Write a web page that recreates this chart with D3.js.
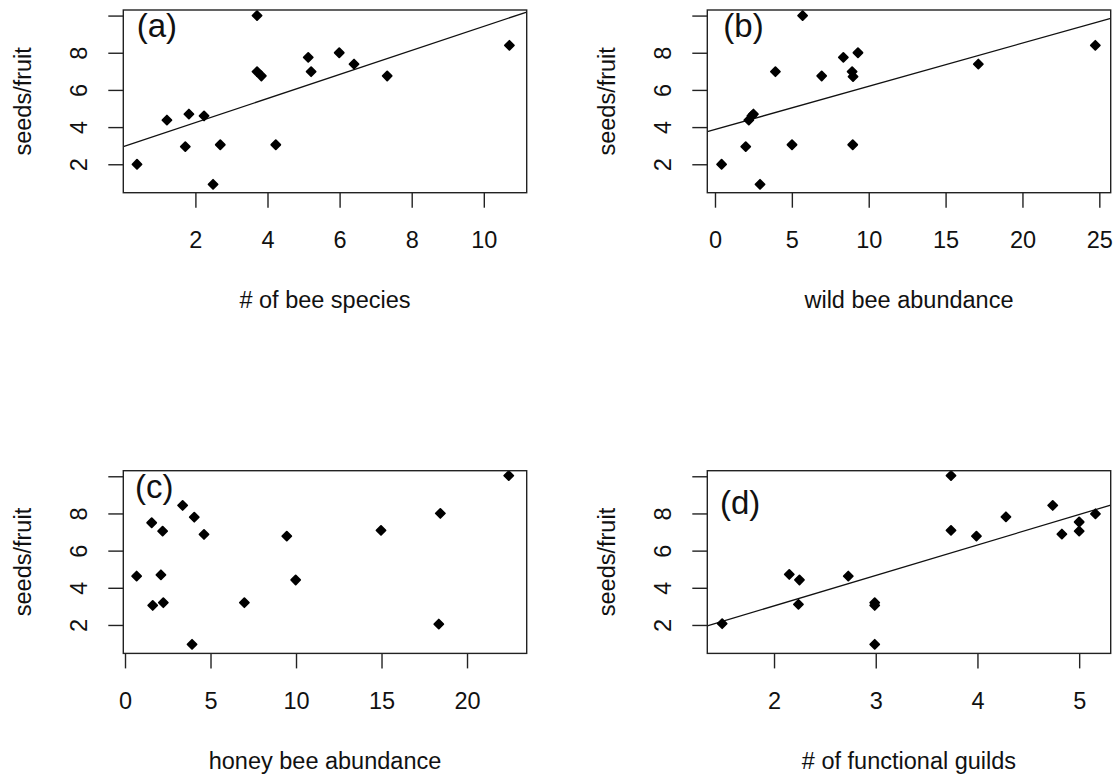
<html>
<head>
<script src="https://d3js.org/d3.v7.min.js"></script>
<style>
    body { margin: 0; background: #fff; }
    svg text {
        font-family: "Liberation Sans", Arial, sans-serif;
        fill: #111;
    }
    .box { fill: none; stroke: #222; stroke-width: 1.4px; }
    .tick line { stroke: #222; stroke-width: 1.4px; }
    .fit { stroke: #111; stroke-width: 1.3px; }
    .dot { fill: #000; stroke: #000; stroke-width: 1.8px; stroke-linejoin: round; }
</style>
</head>
<body>
<svg id="the-chart" width="1119" height="783"></svg>

<script>
    // seeds per fruit against each predictor, one pair of arrays per panel
    var aX = [0.38, 1.21, 1.82, 1.72, 2.24, 2.49, 2.69, 3.71, 3.71, 3.83, 4.23, 5.13, 5.21, 5.99, 6.40, 7.32, 10.71];
    var aY = [2.0, 4.38, 4.7, 2.95, 4.6, 0.92, 3.05, 10.0, 6.98, 6.75, 3.05, 7.75, 6.98, 8.0, 7.39, 6.75, 8.4];

    var bX = [0.43, 2.93, 2.0, 2.2, 2.4, 2.5, 3.93, 5.01, 5.7, 6.94, 8.35, 8.92, 8.98, 9.3, 8.96, 17.13, 24.74];
    var bY = [2.0, 0.92, 2.95, 4.38, 4.6, 4.7, 6.98, 3.05, 10.0, 6.75, 7.75, 6.98, 6.72, 8.0, 3.05, 7.39, 8.4];

    var cX = [0.68, 1.56, 1.62, 2.2, 2.1, 2.24, 3.37, 4.05, 3.92, 4.62, 6.98, 9.46, 9.98, 14.97, 18.44, 18.35, 22.44];
    var cY = [4.63, 7.5, 3.05, 7.05, 4.7, 3.2, 8.43, 7.8, 0.96, 6.87, 3.2, 6.78, 4.42, 7.09, 8.0, 2.05, 10.04];

    var dX = [1.49, 2.15, 2.25, 2.24, 2.73, 2.99, 2.99, 2.99, 3.74, 3.74, 3.99, 4.28, 4.74, 4.83, 5.0, 5.0, 5.16];
    var dY = [2.07, 4.72, 4.42, 3.11, 4.63, 3.2, 3.05, 0.96, 10.04, 7.09, 6.78, 7.82, 8.43, 6.89, 7.54, 7.05, 7.98];

    // fitted lines: [intercept, slope], null = no line
    var aFit = [2.95, 0.647];
    var bFit = [3.87, 0.2325];
    var cFit = null;
    var dFit = [-0.253, 1.639];

    // axis limits and ticks
    var yLim = [0.47, 10.3];
    var yTicks = [2, 4, 6, 8, 10];
    var yTickLabels = ['2', '4', '6', '8', ''];

    var aLim = [0, 11.19],      aTicks = [2, 4, 6, 8, 10],        aTickLabels = ['2', '4', '6', '8', '10'];
    var bLim = [-0.5, 25.74],   bTicks = [0, 5, 10, 15, 20, 25],  bTickLabels = ['0', '5', '10', '15', '20', '25'];
    var cLim = [-0.1, 23.49],   cTicks = [0, 5, 10, 15, 20],      cTickLabels = ['0', '5', '10', '15', '20'];
    var dLim = [1.344, 5.31],   dTicks = [2, 3, 4, 5],            dTickLabels = ['2', '3', '4', '5'];

    var xTitles = ['# of bee species', 'wild bee abundance', 'honey bee abundance', '# of functional guilds'];
    var panelTags = ['(a)', '(b)', '(c)', '(d)'];
    var yTitle = 'seeds/fruit';

    var svg = d3.select('#the-chart');
    var boxW = 403.4, boxH = 182.7;

    var panels = [
        { x: aX, y: aY, fit: aFit, lim: aLim, ticks: aTicks, labels: aTickLabels, left: 123.3, top: 10,    tagDx: 13.4, tagDy: 26.7 },
        { x: bX, y: bY, fit: bFit, lim: bLim, ticks: bTicks, labels: bTickLabels, left: 707.3, top: 10,    tagDx: 16,   tagDy: 26.7 },
        { x: cX, y: cY, fit: cFit, lim: cLim, ticks: cTicks, labels: cTickLabels, left: 123.3, top: 470.7, tagDx: 11.7, tagDy: 27.6 },
        { x: dX, y: dY, fit: dFit, lim: dLim, ticks: dTicks, labels: dTickLabels, left: 707.3, top: 470.7, tagDx: 12.7, tagDy: 43.6 }
    ];

    var fontSize = 23.5;
    var diamond = d3.symbol().type(d3.symbolDiamond2).size(52);

    panels.forEach(function(p, i) {
        var g = svg.append('g')
            .attr('transform', 'translate(' + p.left + ',' + p.top + ')');

        var xscale = d3.scaleLinear().domain(p.lim).range([0, boxW]);
        var yscale = d3.scaleLinear().domain(yLim).range([boxH, 0]);

        svg.append('clipPath').attr('id', 'clip' + i)
            .append('rect').attr('width', boxW).attr('height', boxH);

        // x axis
        var xa = g.append('g')
            .attr('transform', 'translate(0,' + boxH + ')')
            .call(d3.axisBottom(xscale).tickValues(p.ticks).tickSize(15)
                .tickFormat(function(d, j) { return p.labels[j]; }));
        xa.select('.domain').remove();
        xa.selectAll('text')
            .attr('y', 55.6).attr('dy', null)
            .style('font-size', fontSize + 'px');

        // y axis, labels parallel to the axis
        var ya = g.append('g')
            .call(d3.axisLeft(yscale).tickValues(yTicks).tickSize(15)
                .tickFormat(function(d, j) { return yTickLabels[j]; }));
        ya.select('.domain').remove();
        ya.selectAll('text')
            .attr('x', null).attr('dy', null)
            .attr('text-anchor', 'middle')
            .attr('dominant-baseline', 'central')
            .attr('transform', 'translate(-44.5,0) rotate(-90)')
            .style('font-size', fontSize + 'px');

        // fitted line
        if (p.fit) {
            var x0 = p.lim[0], x1 = p.lim[1];
            g.append('line')
                .attr('class', 'fit')
                .attr('clip-path', 'url(#clip' + i + ')')
                .attr('x1', xscale(x0)).attr('y1', yscale(p.fit[0] + p.fit[1] * x0))
                .attr('x2', xscale(x1)).attr('y2', yscale(p.fit[0] + p.fit[1] * x1));
        }

        // points
        g.selectAll('.dot')
            .data(d3.range(p.x.length))
            .enter().append('path')
            .attr('class', 'dot')
            .attr('d', diamond)
            .attr('transform', function(k) {
                return 'translate(' + xscale(p.x[k]) + ',' + yscale(p.y[k]) + ')';
            });

        g.append('rect')
            .attr('class', 'box')
            .attr('width', boxW).attr('height', boxH);

        // panel tag
        g.append('text')
            .attr('x', p.tagDx).attr('y', p.tagDy)
            .style('font-size', '33px')
            .text(panelTags[i]);

        // axis titles
        g.append('text')
            .attr('x', boxW / 2).attr('y', boxH + 115.6)
            .attr('text-anchor', 'middle')
            .style('font-size', fontSize + 'px')
            .text(xTitles[i]);

        g.append('text')
            .attr('text-anchor', 'middle')
            .attr('dominant-baseline', 'central')
            .attr('transform', 'translate(-100,' + boxH / 2 + ') rotate(-90)')
            .style('font-size', fontSize + 'px')
            .text(yTitle);
    });
</script>
</body>
</html>
